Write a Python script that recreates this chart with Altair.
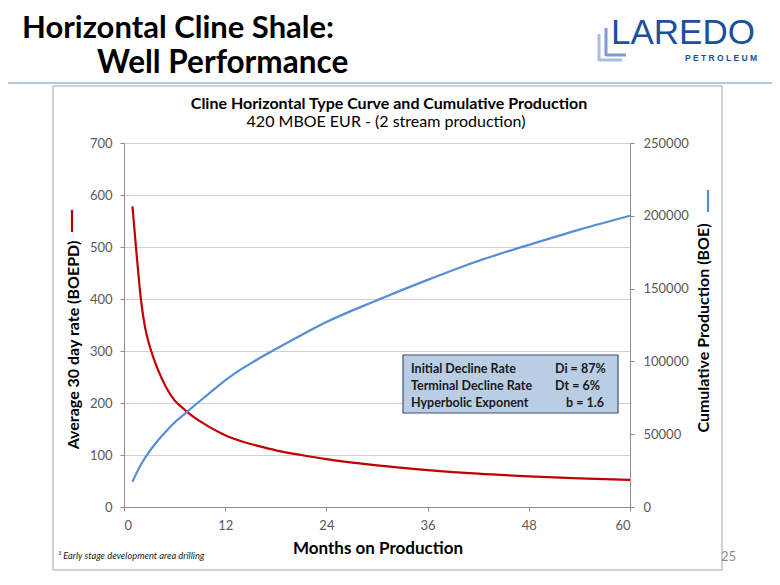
import altair as alt
import pandas as pd

# ---------------- data ----------------
rate_months = [1, 1.5, 2, 2.5, 3, 4, 5, 6, 7, 8, 9, 10, 12, 14, 16, 18, 21, 24, 30, 36, 42, 48, 54, 60]
rate_values = [578, 485, 400, 345, 312, 265, 230, 205, 190, 176, 165, 155, 138, 126, 117, 109, 100, 92, 80, 71, 64, 59, 55, 52]

cum_months = [1, 2, 3, 4, 5, 6, 7, 8, 10, 12, 14, 16, 18, 21, 24, 30, 36, 42, 48, 54, 60]
cum_values = [17400, 29000, 38000, 45500, 52000, 58000, 63000, 68000, 77500, 87000, 95000, 102000, 108500,
              118000, 127000, 142000, 156000, 169000, 180000, 190500, 200000]

x_ticks = [0, 12, 24, 36, 48, 60]
left_ticks = [0, 100, 200, 300, 400, 500, 600, 700]
right_ticks = [0, 50000, 100000, 150000, 200000, 250000]

box_left = ["Initial Decline Rate", "Terminal Decline Rate", "Hyperbolic Exponent"]
box_right = ["Di = 87%", "Dt = 6%", "b = 1.6"]

rate_df = pd.DataFrame({"month": rate_months, "rate": rate_values})
cum_df = pd.DataFrame({"month": cum_months, "cum": cum_values})
one = pd.DataFrame({"a": [0]})

FONT = "Lato"
W, H = 506, 364
OX, OY = 124, 143  # plot origin in page pixels


def P(px, py):
    return px - OX, py - OY


def txt(s, px, py, size, bold=False, italic=False, color="#000000", align="left", angle=0, font=FONT):
    x, y = P(px, py)
    return alt.Chart(one).mark_text(
        text=s, align=align, baseline="middle", fontSize=size,
        fontWeight="bold" if bold else "normal",
        fontStyle="italic" if italic else "normal",
        color=color, angle=angle, font=font,
    ).encode(x=alt.value(x), y=alt.value(y))


def rule(px1, py1, px2, py2, color, width=1.0):
    x1, y1 = P(px1, py1)
    x2, y2 = P(px2, py2)
    return alt.Chart(one).mark_rule(color=color, strokeWidth=width).encode(
        x=alt.value(x1), x2=alt.value(x2), y=alt.value(y1), y2=alt.value(y2))


def rect(px1, py1, px2, py2, fill, stroke, width=1.0, fill_opacity=1.0):
    x1, y1 = P(px1, py1)
    x2, y2 = P(px2, py2)
    return alt.Chart(one).mark_rect(fill=fill, fillOpacity=fill_opacity, stroke=stroke, strokeWidth=width).encode(
        x=alt.value(x1), x2=alt.value(x2), y=alt.value(y1), y2=alt.value(y2))


axis_common = dict(labelFont=FONT, labelFontSize=13, labelColor="#595959",
                   domainColor="#8c8c8c", tickColor="#8c8c8c", tickSize=4, title="")

x_enc = alt.X("month:Q", scale=alt.Scale(domain=[0, 60], nice=False),
              axis=alt.Axis(values=x_ticks, grid=False, labelPadding=8, **axis_common))

rate_line = alt.Chart(rate_df).mark_line(color="#c00000", strokeWidth=2.2, interpolate="monotone").encode(
    x=x_enc,
    y=alt.Y("rate:Q", scale=alt.Scale(domain=[0, 700], nice=False),
            axis=alt.Axis(orient="left", values=left_ticks, grid=True, gridColor="#cfcfcf",
                          labelPadding=8, **axis_common)),
)

cum_line = alt.Chart(cum_df).mark_line(color="#558ed5", strokeWidth=2.2, interpolate="monotone").encode(
    x=alt.X("month:Q", scale=alt.Scale(domain=[0, 60], nice=False)),
    y=alt.Y("cum:Q", scale=alt.Scale(domain=[0, 250000], nice=False),
            axis=alt.Axis(orient="right", values=right_ticks, grid=False, format="d",
                          labelPadding=9, **axis_common)),
)

layers = [
    # chart frame and header line
    rect(53, 86, 722, 570, "#ffffff", "#a6a6a6", 1.0, 0.0),
    rule(0, 83, 780, 83, "#9fb6d6", 1.5),
    # slide title
    txt("Horizontal Cline Shale:", 22, 29, 31, bold=True),
    txt("Well Performance", 97, 64, 31.5, bold=True),
    # logo
    rule(606, 28, 606, 56, "#7d9bd3", 3),
    rule(606, 55, 626, 55, "#7d9bd3", 3),
    rule(599, 34, 599, 61, "#a9bde6", 3),
    rule(599, 60, 622, 60, "#a9bde6", 3),
    txt("LAREDO", 611, 33, 35, color="#1c4f9c", font="Liberation Sans"),
    txt("P E T R O L E U M", 757, 58, 8.5, bold=True, color="#1c4f9c", align="right", font="Liberation Sans"),
    # chart titles
    txt("Cline Horizontal Type Curve and Cumulative Production", 389, 104, 16, bold=True, align="center"),
    txt("420 MBOE EUR - (2 stream production)", 386, 122, 16, align="center"),
    # axis titles
    txt("Average 30 day rate (BOEPD)", 74, 345, 16, bold=True, align="center", angle=270),
    rule(72, 210, 72, 232, "#c00000", 2.2),
    txt("Cumulative Production (BOE)", 704, 328, 16, bold=True, align="center", angle=270),
    rule(708, 190, 708, 212, "#558ed5", 2.2),
    txt("Months on Production", 378, 549, 17, bold=True, align="center"),
    # data
    rate_line,
    cum_line,
    # parameter box
    rect(403, 355, 618, 413, "#b9cde5", "#3f5170", 1.2),
]
right_x = [555, 555, 566]
for i, (l, r) in enumerate(zip(box_left, box_right)):
    yy = 369 + i * 17
    layers.append(txt(l, 411, yy, 12.5, bold=True, color="#1a1a1a"))
    layers.append(txt(r, right_x[i], yy, 12.5, bold=True, color="#1a1a1a"))

layers += [
    txt("\u00b9 Early stage development  area drilling", 58, 556, 9.3, italic=True, color="#222222"),
    txt("25", 736, 557, 13, color="#8c8c8c", align="right"),
]

chart = alt.layer(*layers).resolve_scale(y="independent").properties(
    width=W, height=H,
    padding={"left": OX - 8, "top": OY - 8, "right": 780 - 16 - (OX - 8) - W, "bottom": 585 - 16 - (OY - 8) - H},
    autosize=alt.AutoSizeParams(type="none"),
).configure_view(strokeWidth=0)

chart.save("out.html", embed_options={"renderer": "svg", "actions": False})
